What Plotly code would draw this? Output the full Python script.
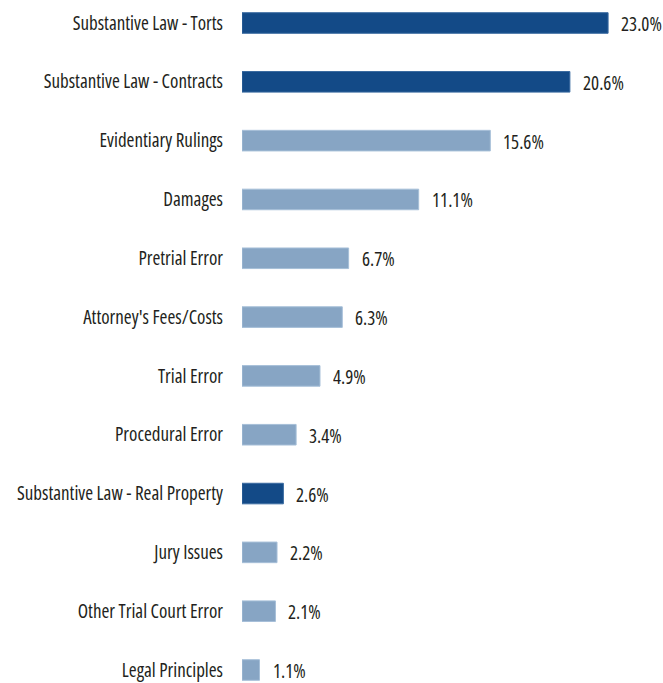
import plotly.graph_objects as go

categories = [
    "Substantive Law - Torts",
    "Substantive Law - Contracts",
    "Evidentiary Rulings",
    "Damages",
    "Pretrial Error",
    "Attorney's Fees/Costs",
    "Trial Error",
    "Procedural Error",
    "Substantive Law - Real Property",
    "Jury Issues",
    "Other Trial Court Error",
    "Legal Principles",
]
values = [23.0, 20.6, 15.6, 11.1, 6.7, 6.3, 4.9, 3.4, 2.6, 2.2, 2.1, 1.1]
highlight = [True, True, False, False, False, False, False, False, True, False, False, False]

DARK = "#134a87"
LIGHT = "#87a5c4"
DARK_EDGE = "#3a6aa0"
LIGHT_EDGE = "#a6bfd8"

FONT = "Open Sans"
TXT = "#231f20"

fig = go.Figure()
fig.add_trace(go.Bar(
    y=categories,
    x=values,
    orientation="h",
    width=0.35,
    marker=dict(
        color=[DARK if h else LIGHT for h in highlight],
        line=dict(color=[DARK_EDGE if h else LIGHT_EDGE for h in highlight], width=1),
    ),
    hoverinfo="skip",
))

for c, v in zip(categories, values):
    fig.add_annotation(
        x=v, y=c, text=f"{v:.1f}%", showarrow=False, align="left", width=42,
        xanchor="left", yanchor="middle", xshift=11, yshift=-1,
        font=dict(family=FONT, size=19, color=TXT),
    )

n = len(categories)
fig.update_layout(
    width=663, height=683,
    margin=dict(l=242, r=0, t=0, b=0, autoexpand=False),
    paper_bgcolor="white", plot_bgcolor="white",
    showlegend=False,
    xaxis=dict(range=[0, 26.45], visible=False, fixedrange=True, automargin=False),
    yaxis=dict(
        type="category",
        categoryorder="array", categoryarray=categories,
        range=[n - 1 + 0.221, -0.391],
        showgrid=False, zeroline=False, showline=False, automargin=False,
        ticks="", ticklabelstandoff=18,
        tickfont=dict(family=FONT, size=19, color=TXT),
    ),
)

post = """
var gd = document.getElementById('{plot_id}');
gd.querySelectorAll('text').forEach(function(t){ t.style.fontStretch = '75%'; });
"""

fig.write_html("out.html", post_script=post)
